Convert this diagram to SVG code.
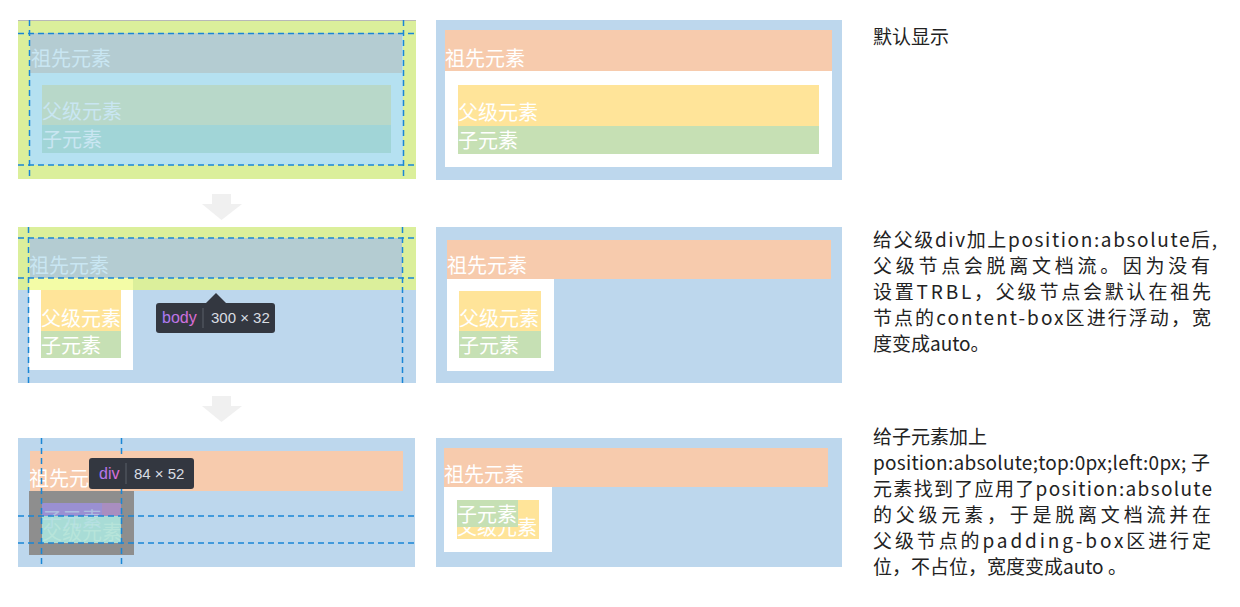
<svg xmlns="http://www.w3.org/2000/svg" width="1240" height="607" viewBox="0 0 1240 607">
<defs>
<style>
.cjk{font-family:"Noto Sans CJK SC","Liberation Sans",sans-serif;}
.lbl{font-family:"Noto Sans CJK SC","Liberation Sans",sans-serif;font-size:20px;fill:#ffffff;}
.faint{fill:#c9e6f2;}
.dash{stroke:#1a86d6;stroke-width:1.5;stroke-dasharray:6 4;fill:none;}
.desc{font-family:"Noto Sans CJK SC","Liberation Sans",sans-serif;font-size:19px;fill:#222222;}
.tip{fill:#333740;}
.tipt{font-family:"Liberation Sans","Noto Sans",sans-serif;font-size:15px;fill:#d9dde3;}
.tagt{font-family:"Liberation Sans","Noto Sans",sans-serif;font-size:16px;}
.arrow{fill:#f0f0f0;}
</style>
<linearGradient id="tag" x1="0" y1="0" x2="1" y2="0">
<stop offset="0" stop-color="#a77cf5"/>
<stop offset="1" stop-color="#e36bd0"/>
</linearGradient>
</defs>
<rect width="1240" height="607" fill="#ffffff"/>

<!-- Row 1 -->
<g id="panel1-left">
<rect x="18" y="20" width="398" height="159" fill="#dbef9b"/>
<line x1="18" y1="20.5" x2="416" y2="20.5" stroke="#b8b8b8" stroke-width="1"/>
<rect x="30" y="33" width="373" height="132" fill="#b5e1f1"/>
<rect x="30" y="33" width="372" height="40" fill="#b4ccd2"/>
<rect x="42" y="85" width="349" height="40" fill="#b8d8c9"/>
<rect x="42" y="125" width="349" height="28" fill="#a1d5d7"/>
<text class="lbl faint" x="31" y="66">祖先元素</text>
<text class="lbl faint" x="42" y="119">父级元素</text>
<text class="lbl faint" x="42" y="147">子元素</text>
<line class="dash" x1="29.5" y1="20" x2="29.5" y2="179"/>
<line class="dash" x1="403.5" y1="20" x2="403.5" y2="179"/>
<line class="dash" x1="18" y1="33.5" x2="416" y2="33.5"/>
<line class="dash" x1="18" y1="165" x2="416" y2="165"/>
</g>

<g id="panel1-right">
<rect x="436" y="20" width="406" height="160" fill="#bdd7ed"/>
<rect x="445" y="30" width="387" height="41" fill="#f7cbad"/>
<rect x="445" y="71" width="387" height="96" fill="#ffffff"/>
<rect x="458" y="85" width="361" height="41" fill="#ffe499"/>
<rect x="458" y="126" width="361" height="28" fill="#c6e0b4"/>
<text class="lbl" x="445" y="66">祖先元素</text>
<text class="lbl" x="458" y="120">父级元素</text>
<text class="lbl" x="458" y="148">子元素</text>
</g>

<text id="note1" class="desc" x="873" y="44">默认显示</text>

<!-- Row 2 -->
<g id="panel2-left">
<rect x="18" y="227" width="398" height="63" fill="#dbef9b"/>
<rect x="18" y="290" width="398" height="93" fill="#bdd7ed"/>
<rect x="30" y="238" width="372" height="40" fill="#b4ccd2"/>
<rect x="29" y="278" width="104" height="12" fill="#f3fca6"/>
<rect x="29" y="290" width="104" height="80" fill="#ffffff"/>
<rect x="41" y="290" width="80" height="41" fill="#ffe499"/>
<rect x="41" y="331" width="80" height="27" fill="#c6e0b4"/>
<text class="lbl faint" x="29" y="273">祖先元素</text>
<text class="lbl" x="41" y="326">父级元素</text>
<text class="lbl" x="41" y="353">子元素</text>
<line class="dash" x1="28.5" y1="227" x2="28.5" y2="383"/>
<line class="dash" x1="402.5" y1="227" x2="402.5" y2="383"/>
<line class="dash" x1="18" y1="238" x2="416" y2="238"/>
<line class="dash" x1="18" y1="278" x2="416" y2="278"/>
<g id="tooltip-body">
<polygon class="tip" points="216,293 205,304 227,304"/>
<rect class="tip" x="156" y="303" width="119" height="30" rx="3"/>
<text class="tagt" x="162" y="323" fill="url(#tag)">body</text>
<line x1="203" y1="308" x2="203" y2="328" stroke="#5b6068" stroke-width="1"/>
<text class="tipt" x="211" y="323">300 × 32</text>
</g>
</g>

<g id="panel2-right">
<rect x="436" y="227" width="406" height="156" fill="#bdd7ed"/>
<rect x="447" y="240" width="384" height="39" fill="#f7cbad"/>
<rect x="447" y="279" width="107" height="92" fill="#ffffff"/>
<rect x="459" y="291" width="82" height="40" fill="#ffe499"/>
<rect x="459" y="331" width="82" height="27" fill="#c6e0b4"/>
<text class="lbl" x="447" y="273">祖先元素</text>
<text class="lbl" x="459" y="326">父级元素</text>
<text class="lbl" x="459" y="353">子元素</text>
</g>

<text id="note2" class="desc">
<tspan x="873" y="247" textLength="344" lengthAdjust="spacing">给父级div加上position:absolute后,</tspan>
<tspan x="873" y="273" textLength="337" lengthAdjust="spacing">父级节点会脱离文档流。因为没有</tspan>
<tspan x="873" y="299" textLength="338" lengthAdjust="spacing">设置TRBL，父级节点会默认在祖先</tspan>
<tspan x="873" y="325" textLength="338" lengthAdjust="spacing">节点的content-box区进行浮动，宽</tspan>
<tspan x="873" y="351">度变成auto。</tspan>
</text>

<!-- Row 3 -->
<g id="panel3-left">
<rect x="18" y="438" width="397" height="129" fill="#bdd7ed"/>
<rect x="30" y="451" width="373" height="40" fill="#f7cbad"/>
<text class="lbl" x="29" y="486">祖先元素</text>
<rect x="29" y="491" width="105" height="64" fill="#8e8e8e"/>
<rect x="42" y="503" width="60" height="13" fill="#9a90d2"/>
<rect x="102" y="503" width="19" height="13" fill="#a98ec0"/>
<rect x="42" y="516" width="79" height="27" fill="#a8dcd6"/>
<text class="lbl" x="42" y="540" style="fill:#c4ecdf" opacity="0.55">父级元素</text>
<text class="lbl" x="42" y="527" style="fill:#bfe3ec" opacity="0.55">子元素</text>
<line class="dash" x1="41.5" y1="438" x2="41.5" y2="567"/>
<line class="dash" x1="121.5" y1="438" x2="121.5" y2="567"/>
<line class="dash" x1="18" y1="516" x2="415" y2="516"/>
<line class="dash" x1="18" y1="543" x2="415" y2="543"/>
<g id="tooltip-div">
<rect class="tip" x="89" y="458" width="105" height="31" rx="3"/>
<text class="tagt" x="99" y="479" fill="url(#tag)">div</text>
<line x1="126" y1="463" x2="126" y2="484" stroke="#5b6068" stroke-width="1"/>
<text class="tipt" x="134" y="479">84 × 52</text>
</g>
</g>

<g id="panel3-right">
<rect x="436" y="438" width="406" height="129" fill="#bdd7ed"/>
<rect x="444" y="448" width="384" height="39" fill="#f7cbad"/>
<rect x="444" y="487" width="108" height="65" fill="#ffffff"/>
<rect x="457" y="500" width="82" height="39" fill="#ffe499"/>
<text class="lbl" x="444" y="482">祖先元素</text>
<text class="lbl" x="457" y="535">父级元素</text>
<rect x="457" y="500" width="61" height="27" fill="#c6e0b4"/>
<text class="lbl" x="457" y="522">子元素</text>
</g>

<text id="note3" class="desc">
<tspan x="873" y="444">给子元素加上</tspan>
<tspan x="873" y="470" textLength="337" lengthAdjust="spacing">position:absolute;top:0px;left:0px; 子</tspan>
<tspan x="873" y="496" textLength="339" lengthAdjust="spacing">元素找到了应用了position:absolute</tspan>
<tspan x="873" y="522" textLength="338" lengthAdjust="spacing">的父级元素，于是脱离文档流并在</tspan>
<tspan x="873" y="548" textLength="338" lengthAdjust="spacing">父级节点的padding-box区进行定</tspan>
<tspan x="873" y="574">位，不占位，宽度变成auto 。</tspan>
</text>

<g id="connectors">
<polygon class="arrow" points="212,194 231,194 231,204 242,204 221.5,220 202,204 212,204"/>
<polygon class="arrow" points="212,396 231,396 231,406 242,406 221.5,422 202,406 212,406"/>
</g>
</svg>
